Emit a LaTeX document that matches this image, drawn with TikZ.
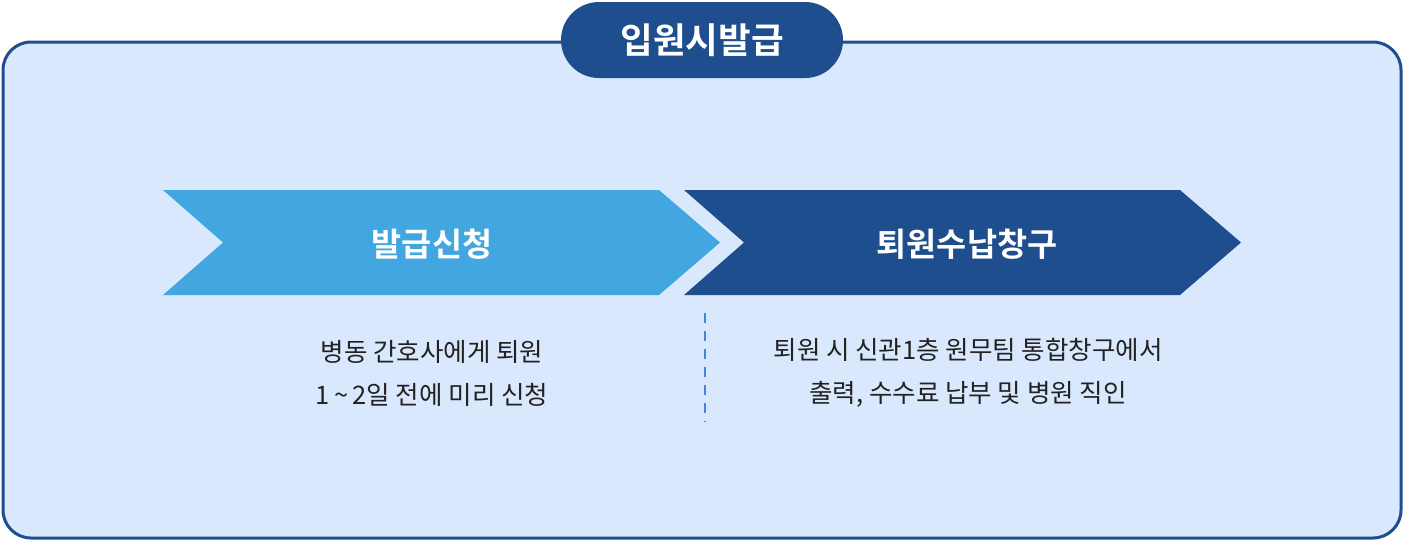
\documentclass[tikz,border=0pt]{standalone}
\usepackage{fontspec}
\setmainfont{Noto Sans CJK KR}[BoldFont={Noto Sans CJK KR Bold}]
\definecolor{bgblue}{HTML}{D9E8FD}
\definecolor{navy}{HTML}{1F4E8F}
\definecolor{sky}{HTML}{42A7E0}
\definecolor{dashblue}{HTML}{4A86D0}
\definecolor{txt}{HTML}{222222}
\begin{document}
\begin{tikzpicture}[x=1pt,y=-1pt,
  titletext/.style={text=white,font=\bfseries\fontsize{35.5}{40}\selectfont,inner sep=0pt},
  steptext/.style={text=white,font=\bfseries\fontsize{32.7}{38}\selectfont,inner sep=0pt},
  desctext/.style={text=txt,font=\fontsize{25.5}{43}\selectfont,align=center,inner sep=0pt}]
\useasboundingbox (0,0) rectangle (1404,541);
% outer panel
\draw[fill=bgblue,draw=navy,line width=3pt,rounded corners=28pt] (3,42) rectangle (1401,538);
% title pill
\fill[navy,rounded corners=38pt] (561,2) rectangle (843,78);
\node[titletext] (title) at (702,40) {입원시발급};
% chevrons
\fill[sky] (163,190) -- (659,190) -- (720,242.5) -- (659,295) -- (163,295) -- (223,242.5) -- cycle;
\fill[navy] (684,190) -- (1180,190) -- (1241,242.5) -- (1180,295) -- (684,295) -- (744,242.5) -- cycle;
\node[steptext] (s1) at (432,244) {발급신청};
\node[steptext] (s2) at (967,244) {퇴원수납창구};
% descriptions
\node[desctext] (d1) at (432,373) {병동 간호사에게 퇴원\\1\,\textasciitilde\,2일 전에 미리 신청};
\node[desctext] (d2) at (968,373) {퇴원 시 신관1층 원무팀 통합창구에서\\출력, 수수료 납부 및 병원 직인};
% divider
\coordinate (dtop) at (705,313);
\coordinate (dbot) at (705,422);
\draw[dashblue,line width=1.2pt,dash pattern=on 10pt off 8pt] (dtop) -- (dbot);
\end{tikzpicture}
\end{document}
